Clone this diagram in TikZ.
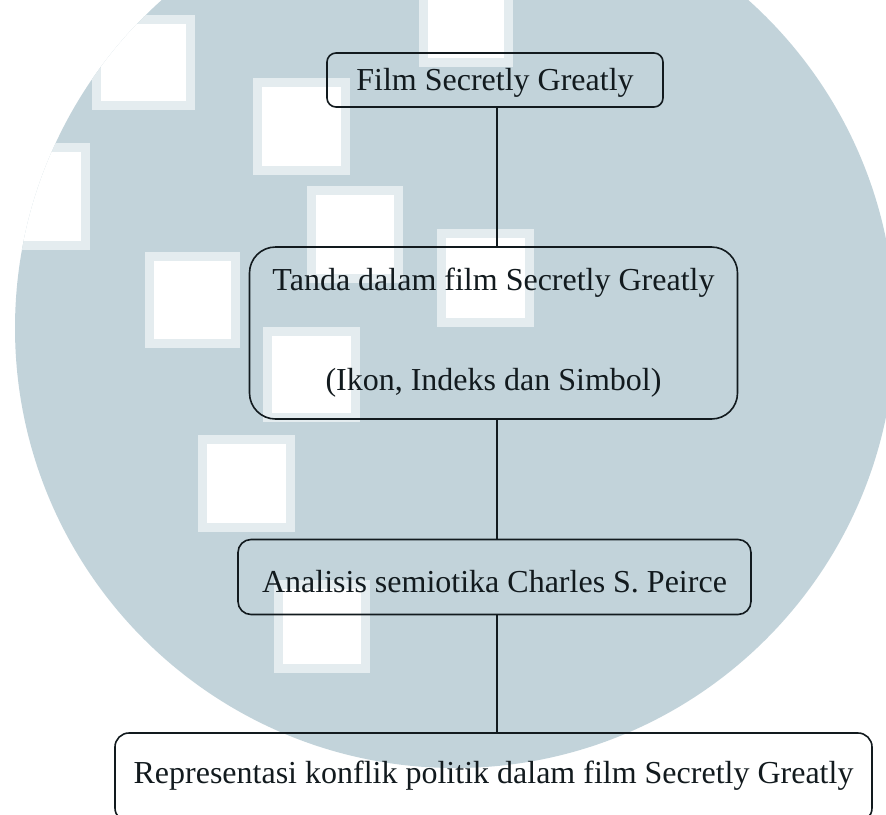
\documentclass[tikz,border=0pt]{standalone}
\usepackage{fontspec}
\setmainfont{Liberation Serif}
\definecolor{wm}{RGB}{194,211,218}
\definecolor{wmring}{RGB}{228,236,239}
\definecolor{ink}{RGB}{18,26,30}
\begin{document}
\begin{tikzpicture}[x=1pt,y=-1pt,
  box/.style={draw=ink,line width=1.6pt,inner sep=0pt,text=ink,
    font=\fontsize{32}{38}\selectfont,align=center},
  link/.style={draw=ink,line width=1.5pt}]
\useasboundingbox (0,0) rectangle (886,814);
% watermark
\fill[wm] (455,328) circle (440);
\begin{scope}
\clip (455,328) circle (440);
\foreach \xa/\ya/\xb/\yb in {92/15/195/110, -10/143/90/250, 253/78/350/175,
  419/-10/513/67, 307/186/403/283, 437/229/534/327, 145/252/240/348,
  263/327/360/422, 198/435/295/532, 274/580/370/673}{
  \fill[wmring] (\xa,\ya) rectangle (\xb,\yb);
  \fill[white] (\xa+9,\ya+9) rectangle (\xb-9,\yb-9);
}
\end{scope}
% boxes
\node[box,rounded corners=9pt,minimum width=336pt,minimum height=54pt,
  text height=24pt,text depth=4pt] (b1) at (495,80) {Film Secretly Greatly};
\node[box,rounded corners=26pt,minimum width=488pt,minimum height=172pt] (b2) at (493.5,333)
  {Tanda dalam film Secretly Greatly\\[62pt](Ikon, Indeks dan Simbol)};
\node[box,rounded corners=13pt,minimum width=513pt,minimum height=75pt,
  text height=32pt,text depth=2pt] (b3) at (494.5,577) {Analisis semiotika Charles S. Peirce};
\node[box,rounded corners=14pt,minimum width=757pt,minimum height=89pt,
  text height=18pt,text depth=7pt] (b4) at (493.5,777.5)
  {Representasi konflik politik dalam film Secretly Greatly};
% connectors
\draw[link] ([xshift=2pt]b1.south) -- ([xshift=2pt]b1.south |- b2.north);
\draw[link] ([xshift=3.5pt]b2.south) -- ([xshift=3.5pt]b2.south |- b3.north);
\draw[link] ([xshift=2.5pt]b3.south) -- ([xshift=2.5pt]b3.south |- b4.north);
\end{tikzpicture}
\end{document}
